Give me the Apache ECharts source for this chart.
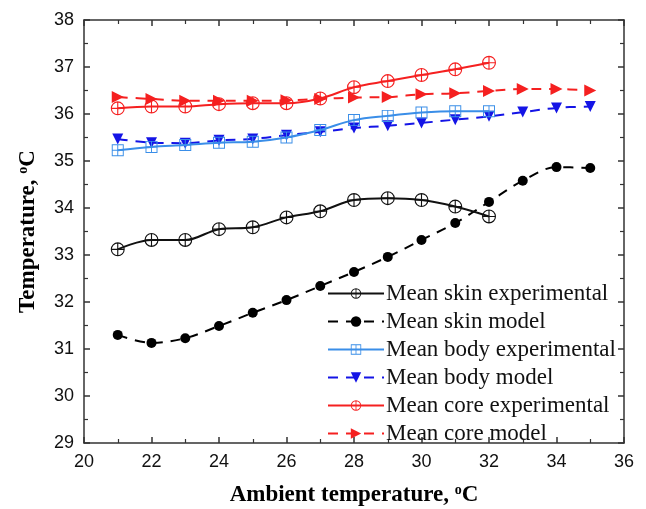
<!DOCTYPE html>
<html>
<head>
<meta charset="utf-8">
<script src="https://cdn.jsdelivr.net/npm/echarts@6/dist/echarts.min.js"></script>
<style>html,body{margin:0;padding:0;background:#fff}#c{width:646px;height:509px}</style>
</head>
<body>
<div id="c"></div>
<script>
// Ambient temperatures (°C)
const ambientExp = [21, 22, 23, 24, 25, 26, 27, 28, 29, 30, 31, 32];
const ambientModel = [21, 22, 23, 24, 25, 26, 27, 28, 29, 30, 31, 32, 33, 34, 35];

// Mean skin temperature
const skinExp = [33.12, 33.32, 33.32, 33.55, 33.59, 33.80, 33.93, 34.17, 34.21, 34.17, 34.03, 33.82];
const skinModel = [31.30, 31.13, 31.23, 31.49, 31.77, 32.04, 32.34, 32.64, 32.96, 33.32, 33.68, 34.13, 34.58, 34.87, 34.85];

// Mean body temperature
const bodyExp = [35.23, 35.30, 35.34, 35.39, 35.41, 35.50, 35.66, 35.87, 35.96, 36.03, 36.06, 36.06];
const bodyModel = [35.47, 35.39, 35.38, 35.44, 35.47, 35.55, 35.62, 35.70, 35.75, 35.81, 35.88, 35.95, 36.04, 36.13, 36.16];

// Mean core temperature
const coreExp = [36.12, 36.16, 36.16, 36.21, 36.23, 36.23, 36.33, 36.57, 36.70, 36.83, 36.95, 37.09];
const coreModel = [36.36, 36.32, 36.28, 36.28, 36.28, 36.29, 36.32, 36.35, 36.36, 36.42, 36.44, 36.49, 36.53, 36.53, 36.50];

const seriesNames = [
  'Mean skin experimental', 'Mean skin model',
  'Mean body experimental', 'Mean body model',
  'Mean core experimental', 'Mean core model'
];

const pairs = (xs, ys) => xs.map((x, i) => [x, ys[i]]);

// Open circle with a cross inside
const circleCross = 'path://M0,-10A10,10 0 1,1 0,10A10,10 0 1,1 0,-10Z' +
  'M0,-8.4A8.4,8.4 0 1,0 0,8.4A8.4,8.4 0 1,0 0,-8.4Z' +
  'M-9,-0.8H9V0.8H-9Z M-0.8,-9H0.8V9H-0.8Z';
// Open square with a cross inside
const squareCross = 'path://M-10,-10H10V10H-10Z M-8.4,-8.4V8.4H8.4V-8.4Z' +
  'M-9,-0.8H9V0.8H-9Z M-0.8,-9H0.8V9H-0.8Z';

function lineSeries(name, data, color, dashed, symbol, size, rotate) {
  return {
    name, type: 'line', data,
    xAxisIndex: 0, yAxisIndex: 0,
    smooth: 0.35,
    symbol, symbolSize: size, symbolRotate: rotate || 0,
    showAllSymbol: true,
    lineStyle: { color, width: 2, type: dashed ? [10, 8] : 'solid' },
    itemStyle: { color, borderWidth: 0 },
    z: dashed ? 2 : 3
  };
}

const serif = '"Liberation Serif", "Times New Roman", serif';
const sans = '"Liberation Sans", Arial, sans-serif';
const axisCol = '#333';

const tickCommon = {
  axisLine: { show: true, onZero: false, lineStyle: { color: axisCol, width: 1.5 } },
  axisTick: { show: true, inside: true, length: 6, lineStyle: { color: axisCol, width: 1.5 } },
  minorTick: { show: true, splitNumber: 2, length: 4, lineStyle: { color: axisCol, width: 1.2 } },
  splitLine: { show: false }
};

const supStyle = { fontFamily: serif, fontWeight: 'bold', fontSize: 14, verticalAlign: 'top', padding: [0, 0, 10, 0], color: '#000' };

const chart = echarts.init(document.getElementById('c'));
chart.setOption({
  animation: false,
  backgroundColor: '#fff',
  grid: { left: 84, right: 22, top: 20, bottom: 66, containLabel: false, outerBoundsMode: 'none' },
  xAxis: [
    Object.assign({
      type: 'value', min: 20, max: 36, interval: 2, position: 'bottom',
      name: 'Ambient temperature, {sup|o}C', nameLocation: 'middle', nameGap: 40,
      nameTextStyle: { fontFamily: serif, fontWeight: 'bold', fontSize: 23, color: '#000', rich: { sup: supStyle } },
      axisLabel: { fontFamily: sans, fontSize: 18, color: '#111', margin: 10 }
    }, tickCommon),
    Object.assign({
      type: 'value', min: 20, max: 36, interval: 2, position: 'top',
      axisLabel: { show: false }
    }, tickCommon)
  ],
  yAxis: [
    Object.assign({
      type: 'value', min: 29, max: 38, interval: 1, position: 'left',
      name: 'Temperature, {sup|o}C', nameLocation: 'middle', nameGap: 44,
      nameTextStyle: { fontFamily: serif, fontWeight: 'bold', fontSize: 23, color: '#000', rich: { sup: supStyle } },
      axisLabel: { fontFamily: sans, fontSize: 18, color: '#111', margin: 10 }
    }, tickCommon),
    Object.assign({
      type: 'value', min: 29, max: 38, interval: 1, position: 'right',
      axisLabel: { show: false }
    }, tickCommon)
  ],
  legend: {
    orient: 'vertical', left: 322, top: 277,
    itemWidth: 56, itemHeight: 13, itemGap: 5,
    textStyle: { fontFamily: serif, fontSize: 23, color: '#111', lineHeight: 23, padding: [0, 0, 0, -3] },
    data: seriesNames
  },
  series: [
    lineSeries(seriesNames[0], pairs(ambientExp, skinExp), '#111', false, circleCross, 14),
    lineSeries(seriesNames[1], pairs(ambientModel, skinModel), '#000', true, 'circle', 10),
    lineSeries(seriesNames[2], pairs(ambientExp, bodyExp), '#3a8ee8', false, squareCross, 12),
    lineSeries(seriesNames[3], pairs(ambientModel, bodyModel), '#1414e6', true, 'triangle', 11, 180),
    lineSeries(seriesNames[4], pairs(ambientExp, coreExp), '#f52020', false, circleCross, 14),
    lineSeries(seriesNames[5], pairs(ambientModel, coreModel), '#f52020', true, 'triangle', 12, -90)
  ]
});
</script>
</body>
</html>
